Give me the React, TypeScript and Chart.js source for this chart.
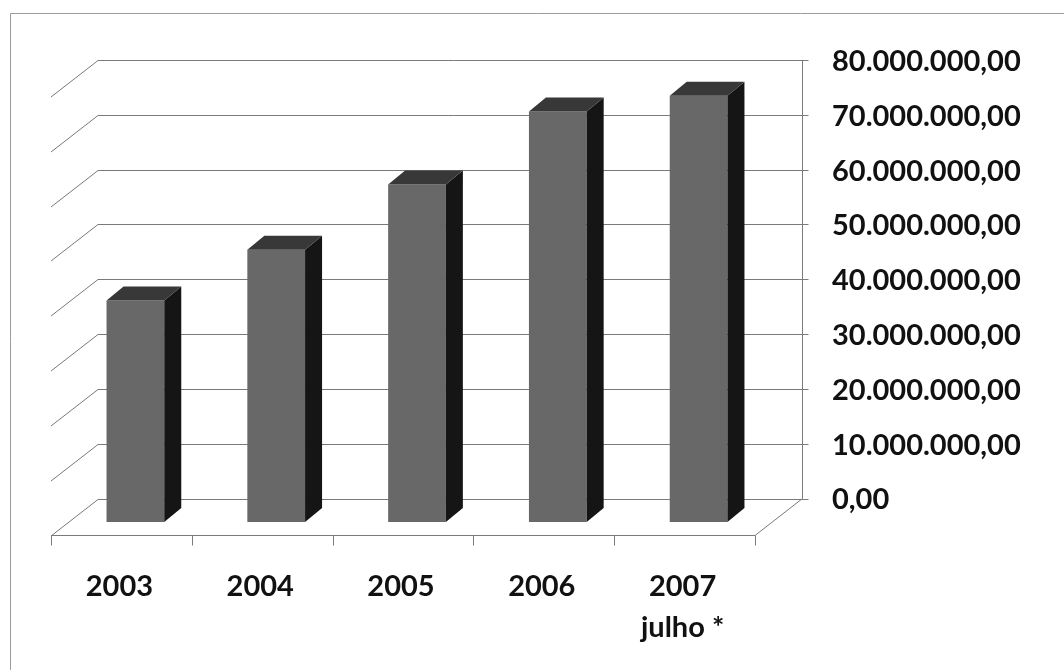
import React, { useEffect, useRef } from 'react';
import { Chart, registerables } from 'chart.js';

Chart.register(...registerables);

// Annual totals (R$)
const years: (string | string[])[] = ['2003', '2004', '2005', '2006', ['2007', 'julho *']];
const amounts: number[] = [40400000, 49700000, 61600000, 74900000, 77800000];
const axisMax = 80000000;
const axisStep = 10000000;

const W = 1064;
const H = 670;

// Oblique projection offsets, measured from the plane of the bars' front faces
const BACK = { dx: 33, dy: -23.5 };
const FLOOR = { dx: -14, dy: 13 };
const BAR_DEPTH = { dx: 17, dy: -14 };

const FRONT_COLOR = '#686868';
const SIDE_COLOR = '#151515';
const TOP_COLOR = '#383838';
const GRID_COLOR = '#7a7a7a';

function formatBR(v: number): string {
  const [intPart, dec] = Math.abs(v).toFixed(2).split('.');
  const grouped = intPart.replace(/\B(?=(\d{3})+(?!\d))/g, '.');
  return grouped + ',' + dec;
}

const box3d = {
  id: 'box3d',
  beforeDraw(chart: any) {
    const { ctx, width, height } = chart;
    ctx.save();
    ctx.fillStyle = '#ffffff';
    ctx.fillRect(0, 0, width, height);
    // outer chart frame
    ctx.strokeStyle = '#9c9c9c';
    ctx.lineWidth = 1;
    ctx.beginPath();
    ctx.moveTo(10.5, height);
    ctx.lineTo(10.5, 13.5);
    ctx.lineTo(width, 13.5);
    ctx.stroke();
    ctx.restore();
  },
  beforeDatasetsDraw(chart: any) {
    const { ctx, chartArea: a, scales } = chart;
    const ys = scales.y;
    const xs = scales.x;
    ctx.save();
    ctx.strokeStyle = GRID_COLOR;
    ctx.lineWidth = 1;
    const backL = a.left + BACK.dx;
    const backR = Math.round(a.right + BACK.dx) + 0.5;
    const sideDx = FLOOR.dx - BACK.dx;
    const sideDy = FLOOR.dy - BACK.dy;
    // back wall gridlines with the side wall lines on the left
    ys.ticks.forEach((t: any) => {
      const py = Math.round(ys.getPixelForValue(t.value) + BACK.dy) + 0.5;
      ctx.beginPath();
      ctx.moveTo(backL + sideDx, py + sideDy);
      ctx.lineTo(backL, py);
      ctx.lineTo(backR + 6, py);
      ctx.stroke();
    });
    const topY = ys.getPixelForValue(axisMax) + BACK.dy;
    const zeroBack = ys.getPixelForValue(0) + BACK.dy;
    const floorY = Math.round(ys.getPixelForValue(0) + FLOOR.dy) + 0.5;
    const floorL = a.left + FLOOR.dx;
    const floorR = a.right + FLOOR.dx;
    ctx.beginPath();
    ctx.moveTo(backR, topY);
    ctx.lineTo(backR, zeroBack);
    ctx.lineTo(floorR, floorY);
    ctx.lineTo(floorL, floorY);
    ctx.stroke();
    // category separators on the floor's front edge
    for (let i = 0; i <= years.length; i++) {
      const px = Math.round(xs.getPixelForValue(i - 0.5) + FLOOR.dx) + 0.5;
      ctx.beginPath();
      ctx.moveTo(px, floorY);
      ctx.lineTo(px, floorY + 10);
      ctx.stroke();
    }
    ctx.restore();
  },
  afterDatasetsDraw(chart: any) {
    const { ctx } = chart;
    const meta = chart.getDatasetMeta(0);
    ctx.save();
    meta.data.forEach((el: any) => {
      const { x, y, base, width } = el.getProps(['x', 'y', 'base', 'width'], true);
      const l = x - width / 2;
      const r = x + width / 2;
      // right side face
      ctx.fillStyle = SIDE_COLOR;
      ctx.beginPath();
      ctx.moveTo(r, base);
      ctx.lineTo(r + BAR_DEPTH.dx, base + BAR_DEPTH.dy);
      ctx.lineTo(r + BAR_DEPTH.dx, y + BAR_DEPTH.dy);
      ctx.lineTo(r, y);
      ctx.closePath();
      ctx.fill();
      // top face
      ctx.fillStyle = TOP_COLOR;
      ctx.beginPath();
      ctx.moveTo(l, y);
      ctx.lineTo(l + BAR_DEPTH.dx, y + BAR_DEPTH.dy);
      ctx.lineTo(r + BAR_DEPTH.dx, y + BAR_DEPTH.dy);
      ctx.lineTo(r, y);
      ctx.closePath();
      ctx.fill();
    });
    ctx.restore();
  },
};

const labelFont = { family: 'Lato, "Open Sans", sans-serif', weight: 'bold' as const, size: 29, lineHeight: 1.42 };

export default function App() {
  const canvasRef = useRef<HTMLCanvasElement | null>(null);

  useEffect(() => {
    const canvas = canvasRef.current;
    if (!canvas) return;
    const chart = new Chart(canvas, {
      type: 'bar',
      data: {
        labels: years,
        datasets: [
          {
            data: amounts,
            backgroundColor: FRONT_COLOR,
            borderWidth: 0,
            barPercentage: 0.41,
            categoryPercentage: 1,
          },
        ],
      },
      options: {
        responsive: false,
        animation: false,
        devicePixelRatio: 1,
        layout: { padding: { left: 65, top: 80, right: 0, bottom: 0 }, autoPadding: false },
        plugins: {
          legend: { display: false },
          tooltip: { enabled: false },
        },
        scales: {
          x: {
            type: 'category',
            offset: true,
            grid: { display: false, drawTicks: false },
            border: { display: false },
            ticks: {
              padding: 44,
              labelOffset: -16,
              color: '#111111',
              font: labelFont,
              maxRotation: 0,
              minRotation: 0,
              autoSkip: false,
            },
            afterFit: (s: any) => {
              s.height = H - 522;
            },
          },
          y: {
            position: 'right',
            min: 0,
            max: axisMax,
            grid: { display: false, drawTicks: false },
            border: { display: false },
            ticks: {
              stepSize: axisStep,
              padding: 63,
              labelOffset: -22,
              color: '#111111',
              font: labelFont,
              callback: (v: any) => formatBR(Number(v)),
            },
            afterFit: (s: any) => {
              s.width = W - 769;
            },
          },
        },
      } as any,
      plugins: [box3d],
    });
    return () => chart.destroy();
  }, []);

  return (
    <div style={{ position: 'fixed', left: 0, top: 0, width: W, height: H, background: '#fff' }}>
      <canvas ref={canvasRef} width={W} height={H} style={{ display: 'block' }} />
    </div>
  );
}
